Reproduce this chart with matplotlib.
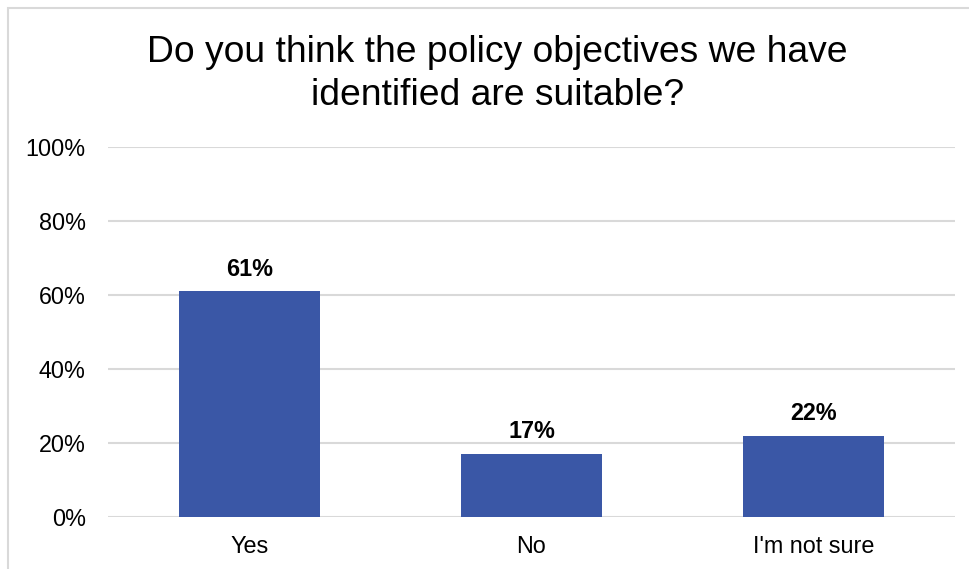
import matplotlib.pyplot as plt
from matplotlib.patches import Rectangle
from matplotlib.ticker import PercentFormatter

categories = ["Yes", "No", "I'm not sure"]
shares = [61, 17, 22]
yticks = [0, 20, 40, 60, 80, 100]

plt.rcParams['font.family'] = ['Liberation Sans', 'DejaVu Sans']

fig = plt.figure(figsize=(9.7, 5.69), dpi=100)
ax = fig.add_axes([108 / 970, 1 - 517 / 569, 847 / 970, 370 / 569])

x = range(len(categories))
ax.bar(x, shares, width=0.5, color='#3A57A6', zorder=3)
for xi, v in zip(x, shares):
    ax.text(xi, v + 2.9, f"{v}%", ha='center', va='bottom',
            fontsize=16.8, fontweight='bold', color='black')

ax.set_xlim(-0.5, len(categories) - 0.5)
ax.set_ylim(0, 100)
ax.set_yticks(yticks)
ax.yaxis.set_major_formatter(PercentFormatter(decimals=0))
ax.set_xticks(list(x))
ax.set_xticklabels(categories)
ax.tick_params(axis='both', length=0, labelsize=16.8, colors='#000000')
ax.tick_params(axis='y', pad=16)
ax.tick_params(axis='x', pad=13)
ax.grid(axis='y', color='#d9d9d9', linewidth=1.5, zorder=0)
for s in ax.spines.values():
    s.set_visible(False)

fig.text(0.513, 1 - 74 / 569, "Do you think the policy objectives we have\nidentified are suitable?",
         ha='center', va='center', fontsize=26.8, linespacing=1.32)

# chart frame
fig.add_artist(Rectangle((8 / 970, -0.1), 1.2, 1 - 8 / 569 + 0.1,
                         transform=fig.transFigure, fill=False,
                         edgecolor='#d9d9d9', linewidth=1.5))

fig.savefig('out.png', dpi=100)
